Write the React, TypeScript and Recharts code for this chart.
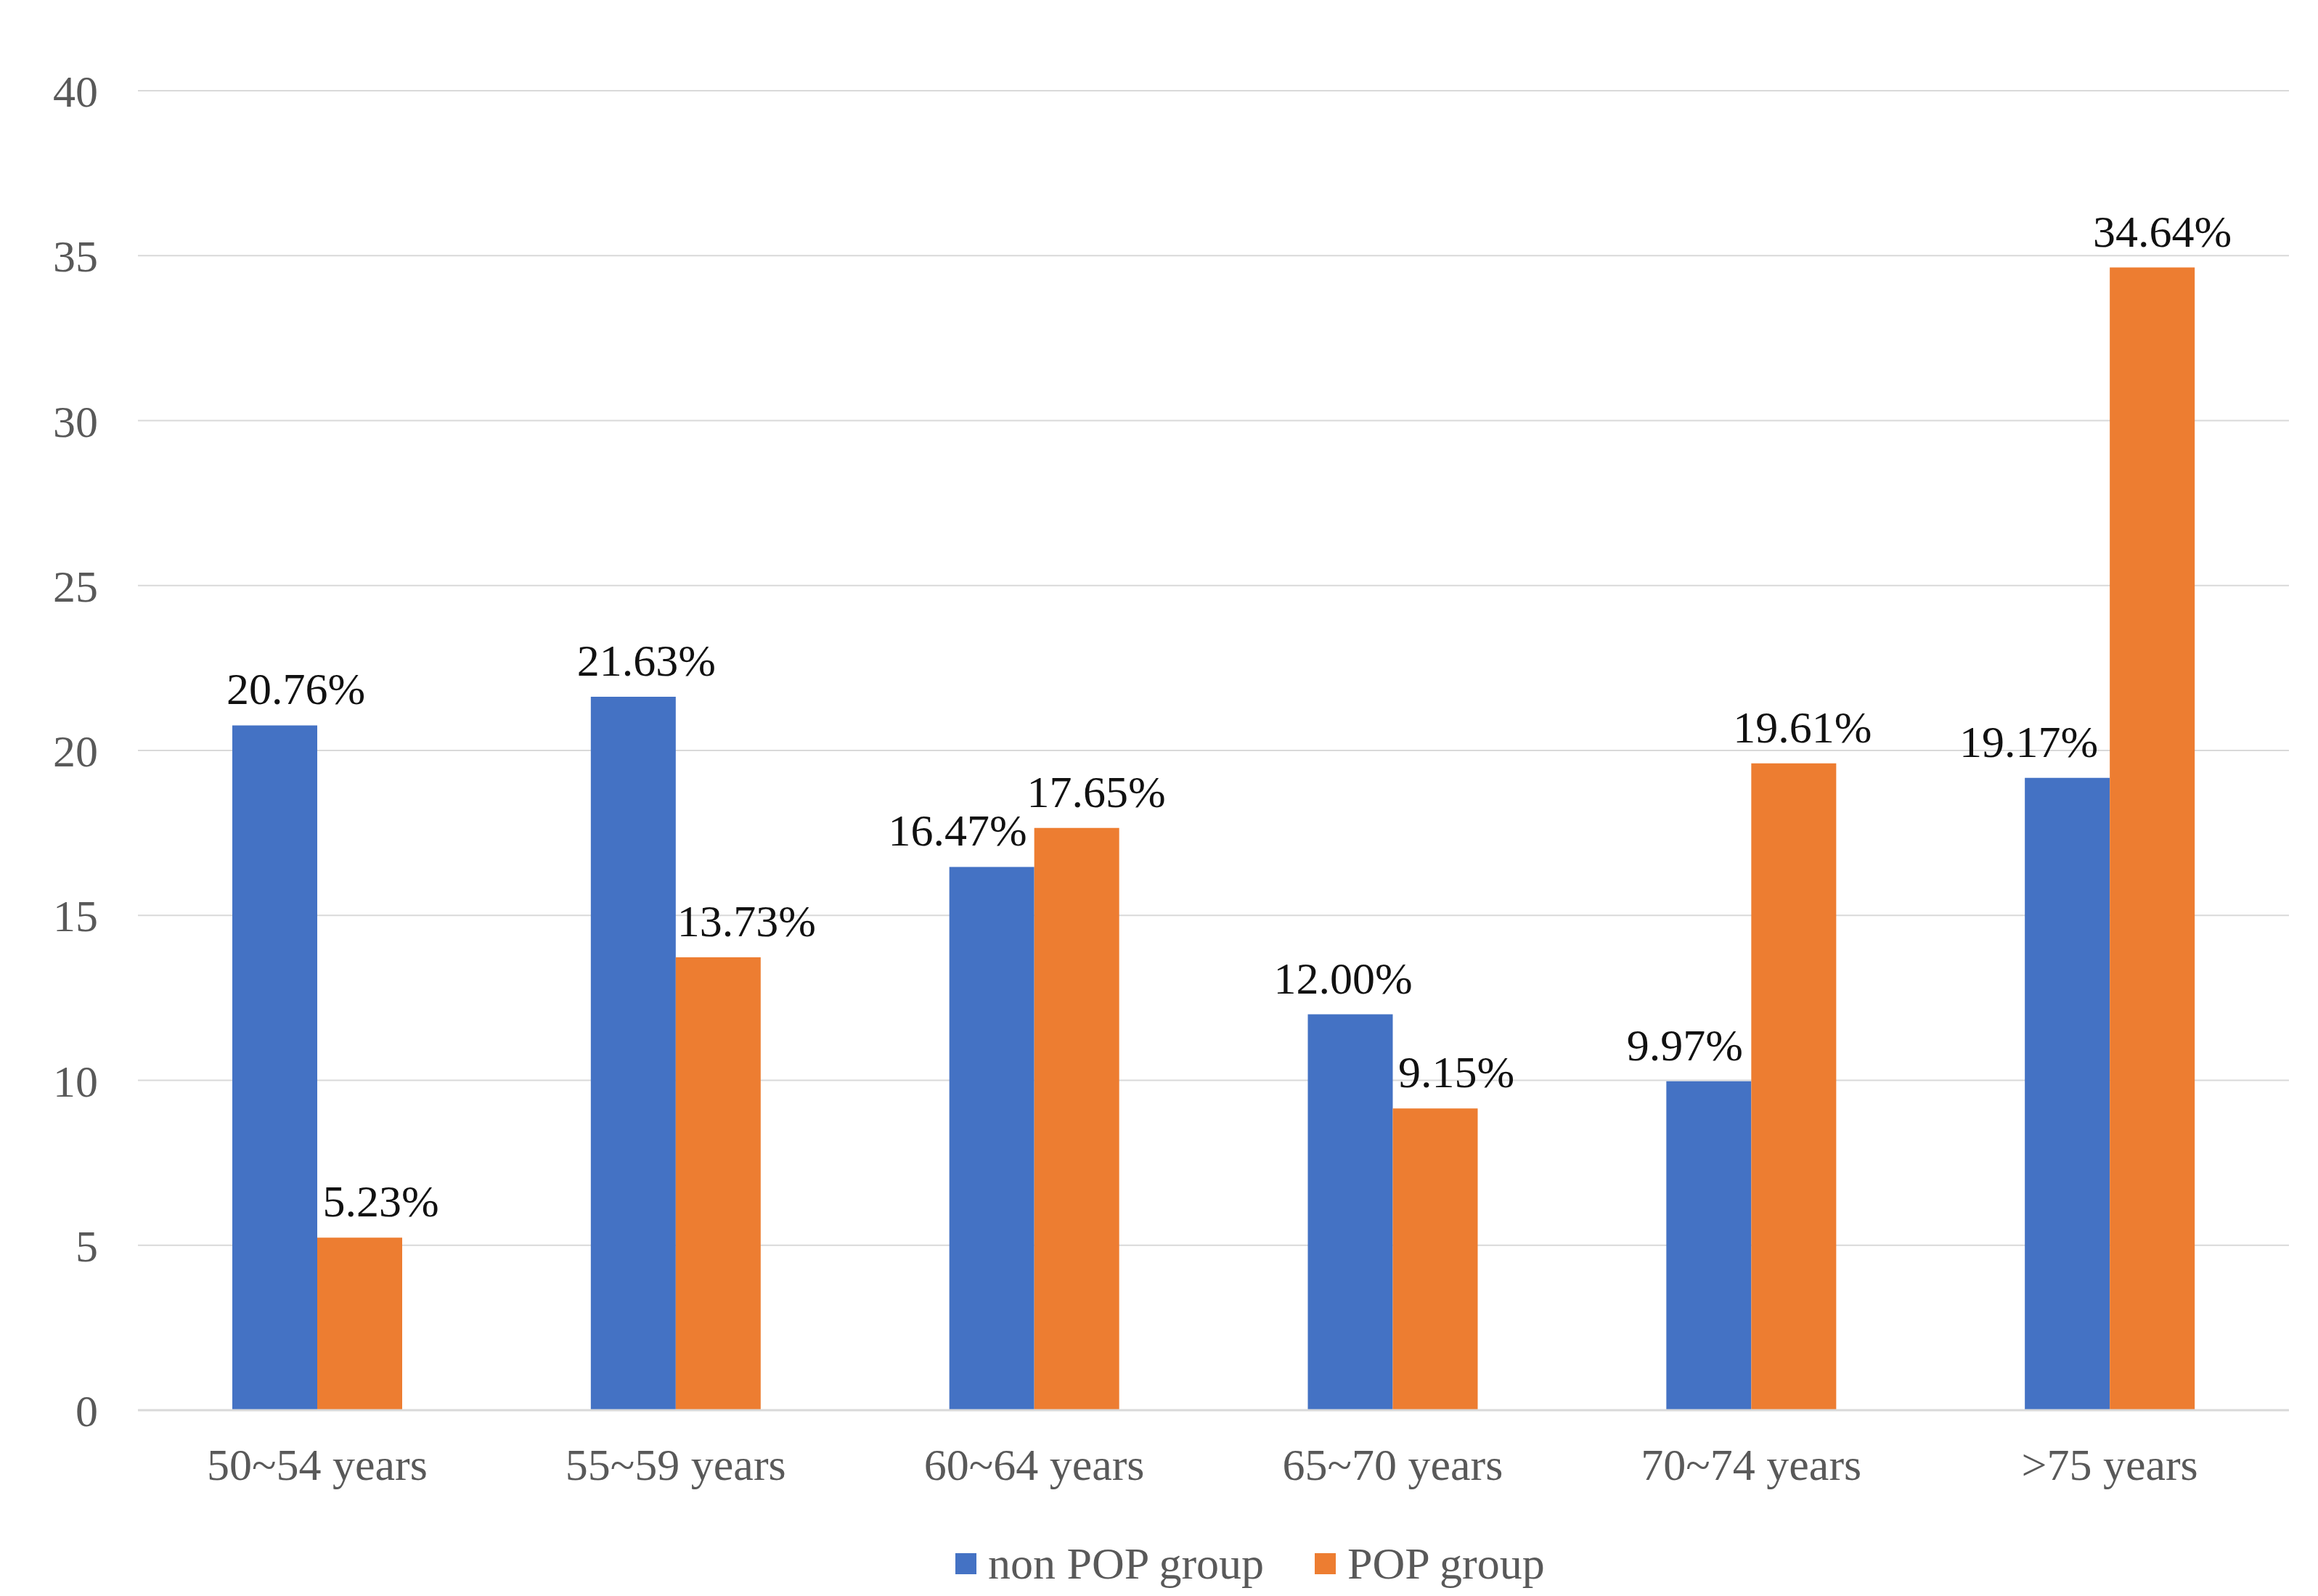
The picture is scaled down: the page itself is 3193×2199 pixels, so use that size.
import React from 'react'
import { BarChart, Bar, XAxis, YAxis, CartesianGrid, Legend } from 'recharts'

const ageGroups: string[] = ['50~54 years', '55~59 years', '60~64 years', '65~70 years', '70~74 years', '>75 years']
const nonPopValues: number[] = [20.76, 21.63, 16.47, 12.0, 9.97, 19.17]
const popValues: number[] = [5.23, 13.73, 17.65, 9.15, 19.61, 34.64]
const yTicks: number[] = [0, 5, 10, 15, 20, 25, 30, 35, 40]

// small sideways shifts of the value labels, as in the original figure
const nonPopLabelShift: number[] = [29, 18, -47, -10, -33, -53]
const popLabelShift: number[] = [29, 39, 27, 29, 12, 14]

const FONT = '"Liberation Serif", "Times New Roman", serif'
const BLUE = '#4472C4'
const ORANGE = '#ED7D31'

const chartData = ageGroups.map((name, i) => ({
  name,
  nonPop: nonPopValues[i],
  pop: popValues[i]
}))

const makeLabel = (shift: number[]) => (props: any) => {
  const { x, y, width, value, index } = props
  return (
    <text
      x={Number(x) + Number(width) / 2 + shift[index]}
      y={Number(y) - 29}
      textAnchor="middle"
      fontSize={62}
      fontFamily={FONT}
      fill="#111"
    >
      {Number(value).toFixed(2)}%
    </text>
  )
}

const LegendBox: React.FC = () => {
  const items = [
    { label: 'non POP group', color: BLUE },
    { label: 'POP group', color: ORANGE }
  ]
  return (
    <div style={{ display: 'flex', alignItems: 'center', height: 90, paddingLeft: 1316, fontFamily: FONT, fontSize: 62, color: '#595959' }}>
      {items.map(item => (
        <div key={item.label} style={{ display: 'flex', alignItems: 'center', marginRight: 70 }}>
          <span style={{ display: 'inline-block', width: 29, height: 29, background: item.color, marginRight: 16 }} />
          <span>{item.label}</span>
        </div>
      ))}
    </div>
  )
}

const App: React.FC = () => {
  return (
    <div style={{ position: 'absolute', left: 0, top: 0, background: '#fff' }}>
      <BarChart
        width={3193}
        height={2199}
        data={chartData}
        margin={{ top: 125, right: 40, left: 0, bottom: 0 }}
        barGap={0}
      >
        <CartesianGrid vertical={false} stroke="#D9D9D9" strokeWidth={2} />
        <XAxis
          dataKey="name"
          height={166}
          tickLine={false}
          axisLine={{ stroke: '#D9D9D9', strokeWidth: 3 }}
          tickMargin={46}
          tick={{ fontSize: 62, fontFamily: FONT, fill: '#595959' }}
        />
        <YAxis
          width={190}
          domain={[0, 40]}
          ticks={yTicks}
          interval={0}
          tickLine={false}
          axisLine={false}
          tickMargin={49}
          tick={{ fontSize: 62, fontFamily: FONT, fill: '#595959' }}
        />
        <Legend
          verticalAlign="bottom"
          wrapperStyle={{ left: 0, width: 3193 }}
          content={() => <LegendBox />}
        />
        <Bar dataKey="nonPop" name="non POP group" fill={BLUE} barSize={117} isAnimationActive={false} label={makeLabel(nonPopLabelShift)} />
        <Bar dataKey="pop" name="POP group" fill={ORANGE} barSize={117} isAnimationActive={false} label={makeLabel(popLabelShift)} />
      </BarChart>
    </div>
  )
}

export default App
